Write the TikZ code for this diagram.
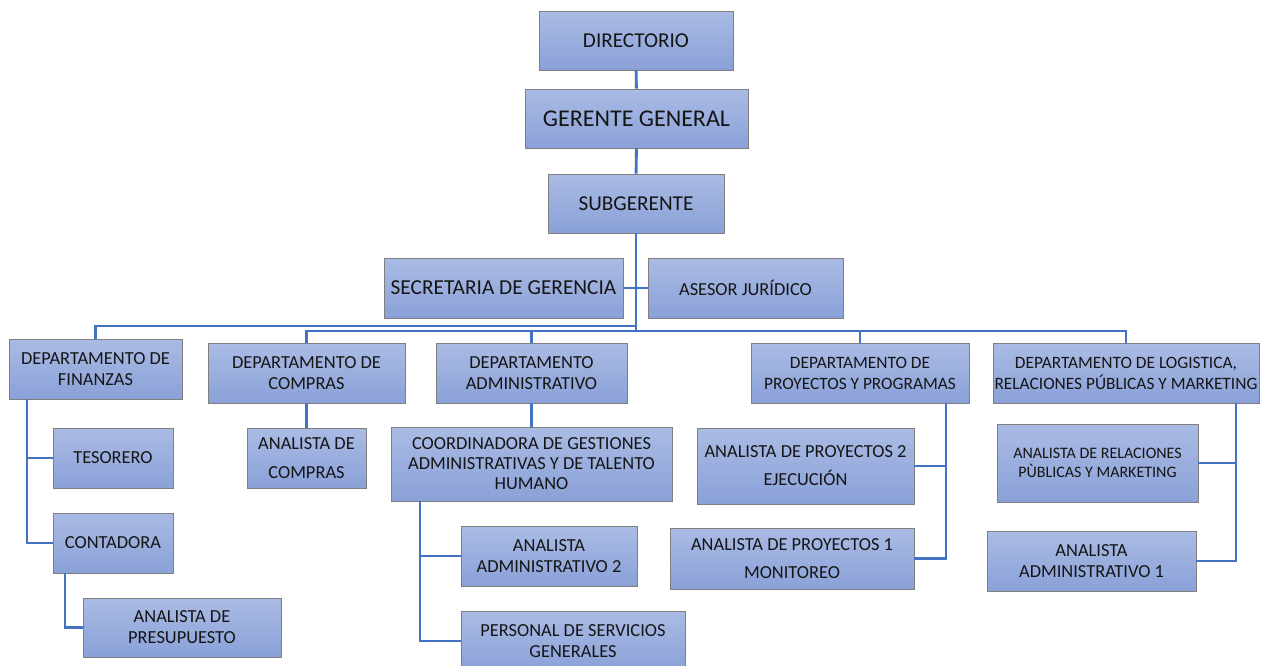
\documentclass[tikz,border=0pt]{standalone}
\usepackage{fontspec}
\setmainfont{Carlito}
\usetikzlibrary{shadows}
\definecolor{boxtop}{HTML}{AABBE4}
\definecolor{boxbot}{HTML}{8AA1D8}
\definecolor{boxline}{HTML}{7F7F7F}
\definecolor{linkblue}{HTML}{4472C4}
\definecolor{txt}{HTML}{151515}
\newcommand\myfs[2]{\fontsize{#1}{#2}\selectfont}
\begin{document}
\begin{tikzpicture}[x=0.75pt,y=-0.75pt,
  box/.style={draw=boxline, line width=0.6pt, top color=boxtop, bottom color=boxbot,
    inner sep=0pt, align=center, text=txt, font=\myfs{13.8}{15.75},
    drop shadow={opacity=0.25, shadow xshift=0.8pt, shadow yshift=-0.8pt}},
  wh/.style 2 args={minimum width=#1*0.75pt, minimum height=#2*0.75pt},
  conn/.style={draw=linkblue, line width=2.2pt}]
\useasboundingbox (0,0) rectangle (1270,665);
\clip (0,0) rectangle (1270,665);

% top chain
\node[box, wh={194}{59}, font=\myfs{15.9}{18}] (dir) at (636,40.5) {DIRECTORIO};
\node[box, wh={223}{59}, font=\myfs{18}{20}] (ger) at (636.5,118.5) {GERENTE GENERAL};
\node[box, wh={176}{59}, font=\myfs{15.9}{18}] (sub) at (636,203.5) {SUBGERENTE};
\node[box, wh={239}{60}, font=\myfs{16}{18}] (sec) at (503.5,288) {SECRETARIA DE GERENCIA};
\node[box, wh={195}{60}] (ase) at (745.5,288) {ASESOR JURÍDICO};

% departments
\node[box, wh={173}{60}] (fin) at (95.5,369) {DEPARTAMENTO DE\\FINANZAS};
\node[box, wh={197}{60}] (com) at (306.5,373) {DEPARTAMENTO DE\\COMPRAS};
\node[box, wh={191}{60}] (adm) at (531.5,373) {DEPARTAMENTO\\ADMINISTRATIVO};
\node[box, wh={218}{60}, font=\myfs{13}{15.75}] (pro) at (860,373) {DEPARTAMENTO DE\\PROYECTOS Y PROGRAMAS};
\node[box, wh={266}{60}, font=\myfs{13}{15.75}] (log) at (1126,373) {DEPARTAMENTO DE LOGISTICA,\\RELACIONES PÚBLICAS Y MARKETING};

% finanzas branch
\node[box, wh={120}{60}] (tes) at (113,458) {TESORERO};
\node[box, wh={120}{60}] (con) at (113,543) {CONTADORA};
\node[box, wh={198}{59}] (pre) at (182,627.5) {ANALISTA DE\\PRESUPUESTO};

% compras branch
\node[box, wh={119}{60}, font=\myfs{13.8}{21.75}] (anc) at (306.5,458) {ANALISTA DE\\COMPRAS};

% administrativo branch
\node[box, wh={281}{74}, font=\myfs{13.8}{15}] (coo) at (531.5,464) {COORDINADORA DE GESTIONES\\ADMINISTRATIVAS Y DE TALENTO\\HUMANO};
\node[box, wh={176}{60}] (aa2) at (549,556) {ANALISTA\\ADMINISTRATIVO 2};
\node[box, wh={224}{60}] (per) at (573,641) {PERSONAL DE SERVICIOS\\GENERALES};

% proyectos branch
\node[box, wh={217}{76}, font=\myfs{13.8}{21}] (ap2) at (805.5,466) {ANALISTA DE PROYECTOS 2\\EJECUCIÓN};
\node[box, wh={244}{61}, font=\myfs{13.8}{21}] (ap1) at (792,558.5) {ANALISTA DE PROYECTOS 1\\MONITOREO};

% logistica branch
\node[box, wh={201}{78}, font=\myfs{12}{14.25}] (arp) at (1097.5,463) {ANALISTA DE RELACIONES\\PÙBLICAS Y MARKETING};
\node[box, wh={209}{60}] (aa1) at (1091.5,561) {ANALISTA\\ADMINISTRATIVO 1};

% junction coordinates
\coordinate (b1) at (636,326);
\coordinate (b2) at (636,331);
\coordinate (fs) at (27,399);
\coordinate (cs) at (65,573);
\coordinate (os) at (420,501);
\coordinate (ps) at (946,403);
\coordinate (ls) at (1236,403);

% connectors
\draw[conn] (dir) -- (ger);
\draw[conn] (ger) -- (sub);
\draw[conn] (sub.south) -- (b2);
\draw[conn] (sec.east) -- (ase.west);
\draw[conn] (fin.north) |- (b1);
\draw[conn] (com.north) |- (b2);
\draw[conn] (adm.north) -- (adm.north |- b2);
\draw[conn] (pro.north) |- (b2);
\draw[conn] (log.north) |- (b2);
\draw[conn] (fs) |- (tes.west);
\draw[conn] (fs) |- (con.west);
\draw[conn] (cs) |- (pre.west);
\draw[conn] (com.south) -- (anc.north);
\draw[conn] (adm.south) -- (adm.south |- coo.north);
\draw[conn] (os) |- (aa2.west);
\draw[conn] (os) |- (per.west);
\draw[conn] (ps) |- (ap2.east);
\draw[conn] (ps) |- (ap1.east);
\draw[conn] (ls) |- (arp.east);
\draw[conn] (ls) |- (aa1.east);
\end{tikzpicture}
\end{document}
